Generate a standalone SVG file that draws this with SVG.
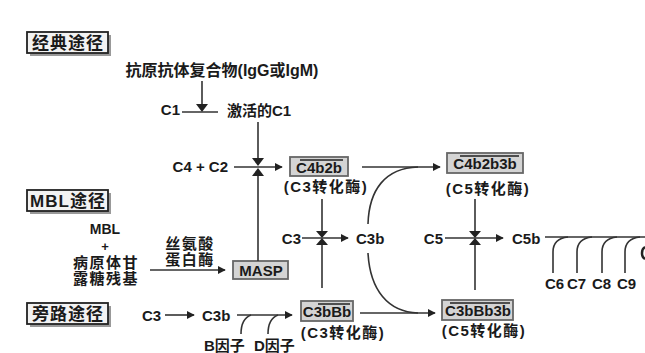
<svg xmlns="http://www.w3.org/2000/svg" width="645" height="353" viewBox="0 0 645 353">
<defs>
<style>
text{font-family:"Liberation Sans","Noto Sans CJK SC",sans-serif;font-weight:bold;fill:#1a1a1a;font-size:15px}
.t{font-size:17px;letter-spacing:1px}
.c{text-anchor:middle}
.e{text-anchor:end}
.cj{letter-spacing:1.5px}
.ln{stroke:#333;stroke-width:1.6;fill:none}
.title{fill:#f2f2f2;stroke:#222;stroke-width:1.8}
.shadow{fill:#999}
.node{fill:#d4d4d4;stroke:#666;stroke-width:1.8}
.ov{stroke:#222;stroke-width:1.5}
.ah{fill:#222}
</style>
<marker id="arr" viewBox="0 0 10 10" refX="9" refY="5" markerWidth="8" markerHeight="8" markerUnits="userSpaceOnUse" orient="auto">
<path d="M0,0 L10,5 L0,10 z" fill="#222"/>
</marker>
</defs>
<rect width="645" height="353" fill="#fff"/>

<g id="title-classic">
<rect class="shadow" x="30" y="35" width="81" height="21"/>
<rect class="title" x="27" y="32" width="81" height="21"/>
<text class="t c" x="68" y="49">经典途径</text>
</g>
<g id="title-mbl">
<rect class="shadow" x="30" y="193" width="81" height="21"/>
<rect class="title" x="27" y="190" width="81" height="21"/>
<text class="t c" x="68" y="207">MBL途径</text>
</g>
<g id="title-alt">
<rect class="shadow" x="30" y="306" width="81" height="21"/>
<rect class="title" x="27" y="303" width="81" height="21"/>
<text class="t c" x="68" y="320">旁路途径</text>
</g>

<g id="complex"><text class="c" x="222" y="76" style="font-size:16px">抗原抗体复合物(IgG或IgM)</text></g>
<g id="c1"><text class="e" x="180" y="115">C1</text></g>
<g id="c1act"><text x="227" y="116">激活的C1</text></g>
<g id="c4c2"><text class="e" x="228" y="172">C4 + C2</text></g>

<g id="c4b2b">
<rect class="node" x="290" y="157" width="58" height="19"/>
<line class="ov" x1="300" y1="160" x2="343" y2="160"/>
<text class="c" x="319" y="173">C4b2b</text>
<text class="c cj" x="326" y="192">(C3转化酶)</text>
</g>

<g id="c4b2b3b">
<rect class="node" x="447" y="153" width="76" height="20"/>
<line class="ov" x1="460" y1="156" x2="519" y2="156"/>
<text class="c" x="485" y="169">C4b2b3b</text>
<text class="c cj" x="488" y="194">(C5转化酶)</text>
</g>

<g id="mbl-src">
<text class="c" x="105" y="234" style="font-size:14px">MBL</text>
<text class="c" x="105" y="251" style="font-size:13px">+</text>
<text class="c cj" x="106" y="268">病原体甘</text>
<text class="c cj" x="106" y="284">露糖残基</text>
</g>
<g id="serine">
<text class="c cj" x="190" y="249">丝氨酸</text>
<text class="c cj" x="190" y="265">蛋白酶</text>
</g>
<g id="masp">
<rect class="node" x="233" y="261" width="55" height="18"/>
<text class="c" x="261" y="276">MASP</text>
</g>

<g id="c3-mid"><text class="e" x="301" y="244">C3</text></g>
<g id="c3b-mid"><text x="356" y="244">C3b</text></g>
<g id="c5"><text class="e" x="443" y="244">C5</text></g>
<g id="c5b"><text x="512" y="244">C5b</text></g>

<g id="c3-alt"><text x="142" y="321">C3</text></g>
<g id="c3b-alt"><text x="202" y="321">C3b</text></g>
<g id="factors">
<text x="204" y="351">B因子</text>
<text x="254" y="351">D因子</text>
</g>

<g id="c3bbb">
<rect class="node" x="301" y="301" width="52" height="20"/>
<line class="ov" x1="318" y1="304" x2="350" y2="304"/>
<text class="c" x="327" y="317">C3bBb</text>
<text class="c cj" x="343" y="338">(C3转化酶)</text>
</g>

<g id="c3bbb3b">
<rect class="node" x="442" y="300" width="71" height="20"/>
<line class="ov" x1="450" y1="303" x2="510" y2="303"/>
<text class="c" x="478" y="316">C3bBb3b</text>
<text class="c cj" x="484" y="336">(C5转化酶)</text>
</g>

<g id="mac">
<text x="545" y="289">C6</text>
<text x="567" y="289">C7</text>
<text x="592" y="289">C8</text>
<text x="617" y="289">C9</text>
</g>

<g id="connectors">
<line class="ln" x1="202" y1="81" x2="202" y2="104"/>
<path class="ah" d="M196,104 L208,104 L202,112 z"/>
<line class="ln" x1="182" y1="112" x2="218" y2="112"/>
<line class="ln" x1="258" y1="122" x2="258" y2="158"/>
<path class="ah" d="M252,158 L264,158 L258,166 z"/>
<line class="ln" x1="234" y1="167" x2="282" y2="167" marker-end="url(#arr)"/>
<line class="ln" x1="258" y1="261" x2="258" y2="176"/>
<path class="ah" d="M252,176 L264,176 L258,168 z"/>
<line class="ln" x1="150" y1="270" x2="225" y2="270" marker-end="url(#arr)"/>
<line class="ln" x1="322" y1="199" x2="322" y2="231"/>
<path class="ah" d="M316,231 L328,231 L322,238 z"/>
<line class="ln" x1="302" y1="238" x2="348" y2="238" marker-end="url(#arr)"/>
<line class="ln" x1="322" y1="288" x2="322" y2="245"/>
<path class="ah" d="M316,245 L328,245 L322,238 z"/>
<line class="ln" x1="362" y1="167" x2="440" y2="167" marker-end="url(#arr)"/>
<path class="ln" d="M368,224 C369,190 385,168 418,167"/>
<line class="ln" x1="360" y1="313" x2="435" y2="313" marker-end="url(#arr)"/>
<path class="ln" d="M368,253 C370,290 388,312 418,313"/>
<line class="ln" x1="475" y1="199" x2="475" y2="231"/>
<path class="ah" d="M469,231 L481,231 L475,238 z"/>
<line class="ln" x1="445" y1="238" x2="503" y2="238" marker-end="url(#arr)"/>
<line class="ln" x1="475" y1="290" x2="475" y2="245"/>
<path class="ah" d="M469,245 L481,245 L475,238 z"/>
<line class="ln" x1="165" y1="315" x2="194" y2="315" marker-end="url(#arr)"/>
<line class="ln" x1="237" y1="315" x2="292" y2="315" marker-end="url(#arr)"/>
<path class="ln" d="M251,315 C243,318 241,325 241,334"/>
<path class="ln" d="M278,315 C270,318 268,325 268,334"/>
<line class="ln" x1="545" y1="237" x2="645" y2="237"/>
<path class="ln" d="M553,273 L553,252 C553,243 558,238 568,237"/>
<path class="ln" d="M577,273 L577,252 C577,243 582,238 592,237"/>
<path class="ln" d="M602,273 L602,252 C602,243 607,238 617,237"/>
<path class="ln" d="M625,273 L625,252 C625,243 630,238 640,237"/>
<path d="M645,247 C641,249 641,257 645,259" fill="none" stroke="#222" stroke-width="2.5"/>
</g>
</svg>
